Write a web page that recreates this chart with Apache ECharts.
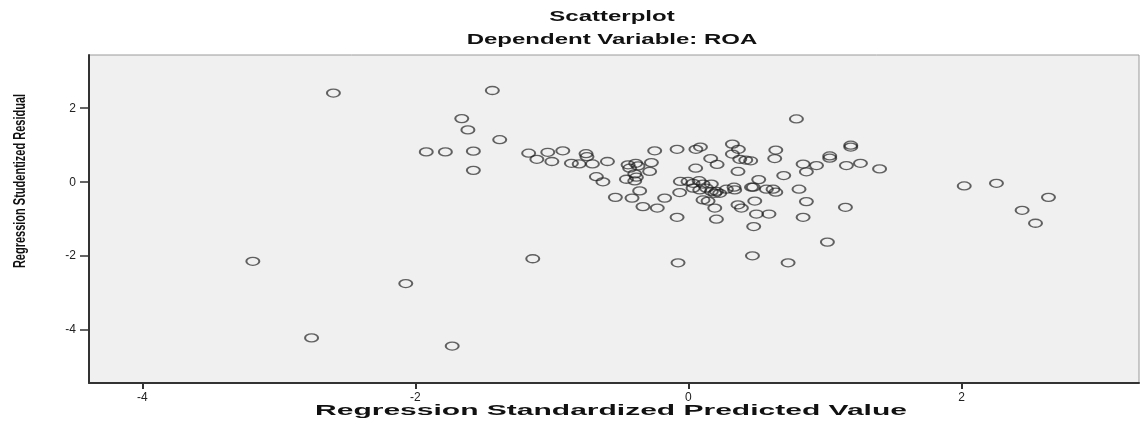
<!DOCTYPE html>
<html>
<head>
<meta charset="utf-8">
<script src="https://cdn.jsdelivr.net/npm/echarts@6/dist/echarts.min.js"></script>
<style>html,body{margin:0;padding:0;background:#fff}#c{width:1142px;height:423px}</style>
</head>
<body>
<div id="c"></div>
<script>
const titleMain = "Scatterplot";
const titleSub = "Dependent Variable: ROA";
const xName = "Regression Standardized Predicted Value";
const yName = "Regression Studentized Residual";
const xTicks = [-4, -2, 0, 2];
const yTicks = [-4, -2, 0, 2];
const predicted = [
-3.19,-2.76,-2.60,-2.07,-1.73,-1.92,-1.78,-1.66,-1.615,-1.575,-1.575,-1.436,-1.382,-1.14,
-1.17,-1.11,-1.03,-1.00,-0.92,-0.857,-0.80,-0.75,-0.743,-0.703,-0.593,-0.674,-0.626,-0.442,
-0.386,-0.43,-0.369,-0.271,-0.247,-0.284,-0.393,-0.381,-0.454,-0.393,-0.357,-0.535,-0.413,
-0.333,-0.228,-0.174,-0.064,-0.083,-0.076,
-0.083,0.055,0.088,0.053,0.163,0.21,0.322,0.366,0.322,0.376,0.42,0.456,0.363,0.515,
-0.059,-0.003,0.034,0.078,0.107,0.168,0.034,0.083,0.132,0.168,0.205,0.229,0.193,0.278,
0.334,0.339,0.462,0.475,0.571,0.62,0.64,0.107,0.144,0.193,0.363,0.388,0.486,0.205,0.498,
0.59,0.478,0.469,0.73,0.64,0.632,0.791,0.84,0.864,0.698,0.81,0.864,0.84,0.938,1.035,1.035,
1.189,1.189,1.157,1.26,1.40,1.15,1.018,2.02,2.256,2.637,2.444,2.542
];
const residual = [
-2.14,-4.21,2.41,-2.74,-4.43,0.82,0.82,1.72,1.415,0.84,0.32,2.48,1.15,-2.07,
0.785,0.62,0.81,0.56,0.85,0.51,0.495,0.77,0.69,0.495,0.56,0.15,0.01,0.47,
0.51,0.38,0.44,0.53,0.85,0.29,0.225,0.135,0.08,0.035,-0.235,-0.41,-0.43,
-0.66,-0.70,-0.43,-0.28,-0.95,-2.18,
0.89,0.89,0.95,0.38,0.64,0.48,1.03,0.89,0.76,0.62,0.60,0.58,0.29,0.07,
0.02,0.02,-0.03,0.04,-0.05,-0.05,-0.16,-0.21,-0.16,-0.25,-0.25,-0.30,-0.30,-0.19,
-0.135,-0.21,-0.135,-0.135,-0.19,-0.19,-0.27,-0.48,-0.51,-0.70,-0.61,-0.70,-0.51,-1.0,-0.86,
-0.86,-1.2,-1.99,-2.18,0.87,0.64,1.71,0.49,0.28,0.18,-0.19,-0.525,-0.95,0.45,0.65,0.71,
1.00,0.95,0.45,0.51,0.36,-0.68,-1.62,-0.10,-0.03,-0.41,-0.76,-1.11
];
const points = predicted.map((x, i) => [x, residual[i]]);

const chart = echarts.init(document.getElementById('c'), null, {renderer: 'canvas'});
const tickFont = {fontFamily: 'Liberation Sans, Arial, sans-serif', fontSize: 12, color: '#222'};
chart.setOption({
  animation: false,
  backgroundColor: '#ffffff',
  grid: {left: 89, top: 55, right: 3, bottom: 40, show: true, backgroundColor: '#f0f0f0', borderColor: '#9a9a9a', borderWidth: 1},
  xAxis: {
    type: 'value', min: -4.39, max: 3.30,
    splitLine: {show: false},
    axisLine: {show: true, onZero: false, lineStyle: {color: '#333', width: 2}},
    axisTick: {show: true, length: 6, lineStyle: {color: '#333', width: 2}, customValues: xTicks},
    axisLabel: Object.assign({margin: 9, customValues: xTicks}, tickFont)
  },
  yAxis: {
    type: 'value', min: -5.43, max: 3.44,
    splitLine: {show: false},
    axisLine: {show: true, onZero: false, lineStyle: {color: '#333', width: 2}},
    axisTick: {show: true, length: 9, lineStyle: {color: '#333', width: 1.5}, customValues: yTicks},
    axisLabel: Object.assign({margin: 13, customValues: yTicks}, tickFont)
  },
  series: [{
    type: 'scatter',
    data: points,
    symbol: 'circle',
    symbolSize: [13, 8],
    itemStyle: {color: 'rgba(0,0,0,0)', borderColor: 'rgba(30,30,30,0.85)', borderWidth: 1.6}
  }],
  graphic: [
    {type: 'text', x: 612, y: 17, scaleX: 1.6, style: {text: titleMain, textAlign: 'center', textVerticalAlign: 'middle', font: 'bold 15px "Liberation Sans", Arial, sans-serif', fill: '#111'}},
    {type: 'text', x: 612, y: 40, scaleX: 1.6, style: {text: titleSub, textAlign: 'center', textVerticalAlign: 'middle', font: 'bold 15px "Liberation Sans", Arial, sans-serif', fill: '#111'}},
    {type: 'text', x: 611, y: 411, scaleX: 2.0, style: {text: xName, textAlign: 'center', textVerticalAlign: 'middle', font: 'bold 15px "Liberation Sans", Arial, sans-serif', fill: '#111'}},
    {type: 'text', x: 20, y: 181, rotation: Math.PI / 2, scaleY: 1.5, style: {text: yName, textAlign: 'center', textVerticalAlign: 'middle', font: 'bold 11px "Liberation Sans Narrow", "Liberation Sans", Arial, sans-serif', fill: '#111'}}
  ]
});
</script>
</body>
</html>
